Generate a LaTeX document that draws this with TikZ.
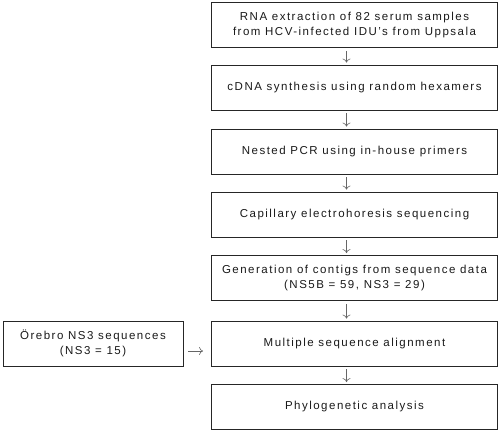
\documentclass[tikz,border=0pt]{standalone}
\usepackage{fontspec}
\setmainfont{Liberation Sans}[LetterSpace=13]
\usetikzlibrary{arrows.meta}
\begin{document}
\begin{tikzpicture}[x=1pt,y=-1pt,
  stepbox/.style={draw=black!85,line width=0.9pt,minimum width=286pt,minimum height=45pt,align=center,inner sep=0pt,text=black!90,font=\fontsize{11.5}{14.5}\selectfont},
  conn/.style={draw=black!60,line width=0.6pt,-{To[length=4pt,width=8pt]}}]
\useasboundingbox (0,0) rectangle (500,432);
\node[stepbox] (b1) at (354.5,25) {RNA extraction of 82 serum samples\\from HCV-infected IDU's from Uppsala};
\node[stepbox] (b2) at (354.5,87.5) {cDNA synthesis using random hexamers};
\node[stepbox] (b3) at (354.5,151.5) {Nested PCR using in-house primers};
\node[stepbox] (b4) at (354.5,214.5) {Capillary electrohoresis sequencing};
\node[stepbox] (b5) at (354.5,278) {Generation of contigs from sequence data\\(NS5B = 59, NS3 = 29)};
\node[stepbox] (b6) at (354.5,343.5) {Multiple sequence alignment};
\node[stepbox] (b7) at (354.5,407) {Phylogenetic analysis};
\node[stepbox,minimum width=180pt] (l) at (93,343.5) {Örebro NS3 sequences\\(NS3 = 15)};
\foreach \a/\b in {b1/b2,b2/b3,b3/b4,b4/b5,b5/b6,b6/b7}
  \draw[conn,shorten <=3pt,shorten >=2pt] ([xshift=-8pt]\a.south) -- ([xshift=-8pt]\b.north);
\draw[conn] ([xshift=5pt,yshift=-7.5pt]l.east) -- ([xshift=-8pt,yshift=-7.5pt]b6.west);
\end{tikzpicture}
\end{document}
